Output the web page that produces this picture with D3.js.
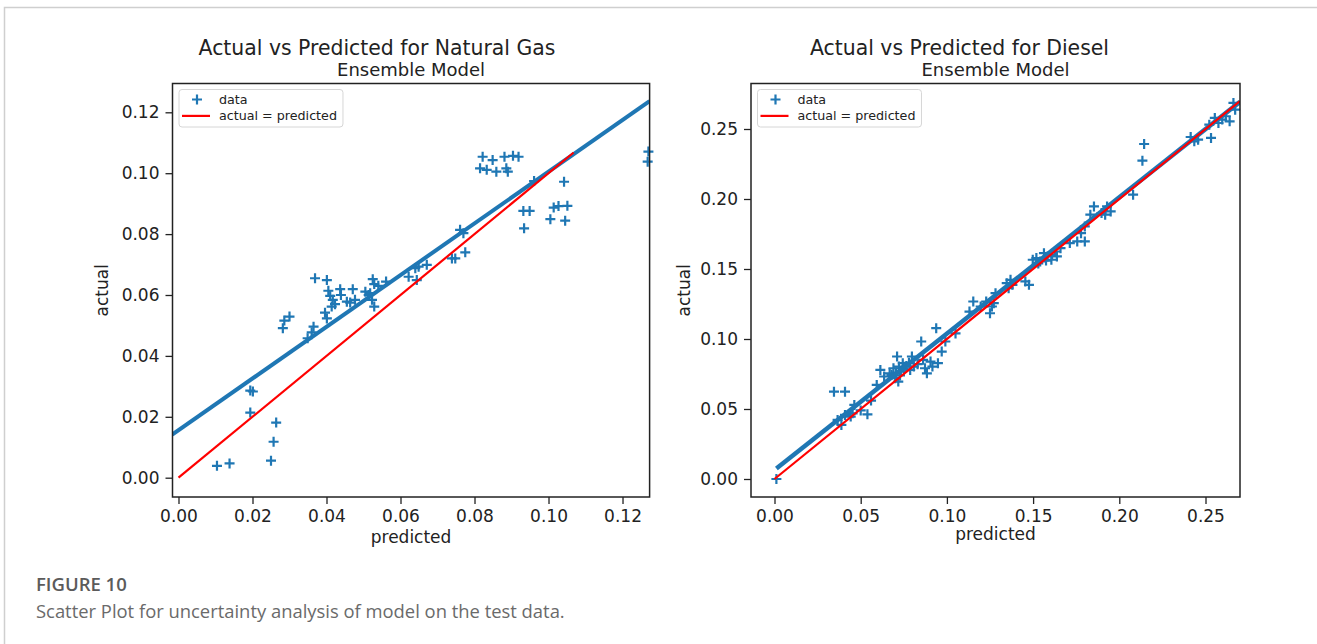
<!DOCTYPE html>
<html>
<head>
<meta charset="utf-8">
<script src="https://cdnjs.cloudflare.com/ajax/libs/d3/7.8.5/d3.min.js"></script>
<style>
  body { margin: 0; background: #fff; }
  svg { display: block; }
</style>
</head>
<body>
<svg id="chart" width="1317" height="644"></svg>
<script>
// natural gas test set: predicted vs actual
var gasPredicted = [0.0104, 0.0138, 0.0194, 0.0201, 0.0194, 0.0250, 0.0257, 0.0264, 0.0282, 0.0286,
    0.0300, 0.0349, 0.0360, 0.0365, 0.0369, 0.0401, 0.0396, 0.0401, 0.0405, 0.0410,
    0.0417, 0.0423, 0.0414, 0.0437, 0.0439, 0.0455, 0.0471, 0.0477, 0.0464, 0.0505,
    0.0514, 0.0525, 0.0529, 0.0523, 0.0529, 0.0518, 0.0540, 0.0561, 0.0622, 0.0640,
    0.0644, 0.0649, 0.0671, 0.0739, 0.0748, 0.0761, 0.0770, 0.0775, 0.0815, 0.0822,
    0.0833, 0.0849, 0.0859, 0.0881, 0.0886, 0.0890, 0.0904, 0.0919, 0.0932, 0.0949,
    0.0934, 0.0961, 0.1005, 0.1014, 0.1027, 0.1051, 0.1045, 0.1042, 0.1268, 0.1270];
var gasActual = [0.0039, 0.0047, 0.0286, 0.0283, 0.0214, 0.0056, 0.0118, 0.0181, 0.0491, 0.0516,
    0.0529, 0.0458, 0.0477, 0.0496, 0.0655, 0.0649, 0.0542, 0.0523, 0.0614, 0.0597,
    0.0584, 0.0570, 0.0562, 0.0619, 0.0600, 0.0578, 0.0619, 0.0584, 0.0575, 0.0611,
    0.0600, 0.0652, 0.0636, 0.0584, 0.0562, 0.0606, 0.0630, 0.0644, 0.0660, 0.0688,
    0.0649, 0.0693, 0.0699, 0.0720, 0.0720, 0.0814, 0.0803, 0.0740, 0.1016, 0.1054,
    0.1011, 0.1043, 0.1005, 0.1054, 0.1016, 0.1005, 0.1057, 0.1054, 0.0876, 0.0876,
    0.0819, 0.0974, 0.0849, 0.0887, 0.0892, 0.0893, 0.0844, 0.0972, 0.1038, 0.1071];

// diesel test set: predicted vs actual
var dieselPredicted = [0.0011, 0.0345, 0.0409, 0.0366, 0.0388, 0.0409, 0.0442, 0.0463, 0.0453, 0.0539,
    0.0500, 0.0560, 0.0593, 0.0614, 0.0636, 0.0668, 0.0690, 0.0711, 0.0722, 0.0733,
    0.0744, 0.0765, 0.0718, 0.0700, 0.0679, 0.0705, 0.0728, 0.0750, 0.0797, 0.0808,
    0.0787, 0.0851, 0.0873, 0.0884, 0.0862, 0.0905, 0.0916, 0.0938, 0.0948, 0.0970,
    0.0991, 0.0830, 0.0780, 0.1050, 0.1131, 0.1153, 0.1196, 0.1228, 0.1250, 0.1261,
    0.1272, 0.1282, 0.1347, 0.1369, 0.1358, 0.1380, 0.1455, 0.1476, 0.1498, 0.1519,
    0.1541, 0.1563, 0.1584, 0.1606, 0.1627, 0.1638, 0.1659, 0.1530, 0.1575, 0.1610,
    0.1713, 0.1756, 0.1800, 0.1778, 0.1800, 0.1832, 0.1853, 0.1897, 0.1929, 0.1950,
    0.1918, 0.2080, 0.2134, 0.2144, 0.2414, 0.2435, 0.2457, 0.2532, 0.2554, 0.2575,
    0.2597, 0.2618, 0.2640, 0.2662, 0.2672, 0.2522];
var dieselActual = [0.0000, 0.0624, 0.0624, 0.0422, 0.0386, 0.0458, 0.0446, 0.0529, 0.0469, 0.0462,
    0.0490, 0.0560, 0.0672, 0.0779, 0.0732, 0.0755, 0.0791, 0.0875, 0.0803, 0.0767,
    0.0827, 0.0808, 0.0696, 0.0720, 0.0744, 0.0760, 0.0740, 0.0790, 0.0875, 0.0803,
    0.0779, 0.0982, 0.0791, 0.0755, 0.0851, 0.0839, 0.0803, 0.1077, 0.0827, 0.0910,
    0.0982, 0.0820, 0.0830, 0.1040, 0.1196, 0.1268, 0.1232, 0.1268, 0.1184, 0.1232,
    0.1256, 0.1327, 0.1399, 0.1423, 0.1363, 0.1387, 0.1411, 0.1387, 0.1566, 0.1578,
    0.1554, 0.1613, 0.1590, 0.1566, 0.1625, 0.1590, 0.1649, 0.1540, 0.1560, 0.1600,
    0.1685, 0.1697, 0.1697, 0.1756, 0.1804, 0.1888, 0.1947, 0.1900, 0.1947, 0.1911,
    0.1888, 0.2031, 0.2274, 0.2393, 0.2443, 0.2412, 0.2424, 0.2436, 0.2579, 0.2543,
    0.2567, 0.2591, 0.2555, 0.2686, 0.2638, 0.2531];

// fitted trend lines [slope, intercept] and the x range they cover
var gasFit = [0.849, 0.0156];
var gasFitRange = [-0.0017, 0.1273];
var dieselFit = [0.974, 0.0064];
var dieselFitRange = [0.0011, 0.2700];

// actual = predicted reference segments
var gasIdentity = [0, 0.1068];
var dieselIdentity = [0, 0.2700];

// axis limits and ticks
var gasXDomain = [-0.00162, 0.12732], gasYDomain = [-0.00634, 0.12946];
var dieselXDomain = [-0.01363, 0.27001], dieselYDomain = [-0.01286, 0.28250];
var gasTicks = [0, 0.02, 0.04, 0.06, 0.08, 0.10, 0.12];
var dieselTicks = [0, 0.05, 0.10, 0.15, 0.20, 0.25];

var titles = ["Actual vs Predicted for Natural Gas", "Actual vs Predicted for Diesel"];
var subtitle = "Ensemble Model";
var legendLabels = ["data", "actual = predicted"];

var blue = "#1f77b4";
var font = "DejaVu Sans, sans-serif";

var svg = d3.select("#chart");

// page frame (top-left corner of the figure box)
svg.append("path")
    .attr("d", "M4.5,644 V7.5 H1317")
    .attr("fill", "none")
    .attr("stroke", "#cfcfcf")
    .attr("stroke-width", 1.5);

function drawPanel(p) {
    var x = d3.scaleLinear().domain(p.xDomain).range([p.left, p.right]);
    var y = d3.scaleLinear().domain(p.yDomain).range([p.bottom, p.top]);
    var g = svg.append("g");

    var clipId = "clip" + p.id;
    svg.append("clipPath").attr("id", clipId)
        .append("rect")
        .attr("x", p.left).attr("y", p.top)
        .attr("width", p.right - p.left).attr("height", p.bottom - p.top);

    // markers
    var pts = p.pred.map(function (d, i) { return [d, p.act[i]]; });
    g.selectAll(".pt")
        .data(pts)
        .enter()
        .append("path")
        .attr("class", "pt")
        .attr("d", function (d) {
            var cx = x(d[0]), cy = y(d[1]);
            return "M" + (cx - 5) + "," + cy + "H" + (cx + 5) + "M" + cx + "," + (cy - 5) + "V" + (cy + 5);
        })
        .attr("stroke", blue)
        .attr("stroke-width", 2.2)
        .attr("fill", "none");

    // trend line
    var line = d3.line().x(function (d) { return x(d); }).y(function (d) { return y(p.fit[0] * d + p.fit[1]); });
    g.append("path")
        .datum(p.fitRange)
        .attr("d", line)
        .attr("clip-path", "url(#" + clipId + ")")
        .attr("stroke", blue)
        .attr("stroke-width", p.fitWidth)
        .attr("fill", "none");

    // actual = predicted
    g.append("line")
        .attr("clip-path", "url(#" + clipId + ")")
        .attr("x1", x(p.identity[0])).attr("y1", y(p.identity[0]))
        .attr("x2", x(p.identity[1])).attr("y2", y(p.identity[1]))
        .attr("stroke", "#ff0000")
        .attr("stroke-width", 2.2);

    // axes
    var xAxis = d3.axisBottom(x).tickValues(p.ticks).tickFormat(d3.format(p.fmt)).tickSizeOuter(0).tickSize(7).tickPadding(6);
    var yAxis = d3.axisLeft(y).tickValues(p.ticks).tickFormat(d3.format(p.fmt)).tickSizeOuter(0).tickSize(7).tickPadding(6);
    var xa = g.append("g").attr("transform", "translate(0," + p.bottom + ")").call(xAxis);
    var ya = g.append("g").attr("transform", "translate(" + p.left + ",0)").call(yAxis);
    [xa, ya].forEach(function (a) {
        a.select(".domain").remove();
        a.selectAll(".tick line").attr("stroke", "#222").attr("stroke-width", 1.3);
        a.selectAll(".tick text").attr("fill", "#222").style("font-family", font).style("font-size", "17px");
    });

    // frame
    g.append("rect")
        .attr("x", p.left).attr("y", p.top)
        .attr("width", p.right - p.left).attr("height", p.bottom - p.top)
        .attr("fill", "none")
        .attr("stroke", "#222")
        .attr("stroke-width", 1.5);

    // titles and labels
    var mid = (p.left + p.right) / 2;
    g.append("text").attr("x", p.titleX).attr("y", 55).attr("text-anchor", "middle")
        .style("font-family", font).style("font-size", "20.4px").attr("fill", "#222").text(p.title);
    g.append("text").attr("x", mid).attr("y", 75.5).attr("text-anchor", "middle")
        .style("font-family", font).style("font-size", "18px").attr("fill", "#222").text(subtitle);
    g.append("text").attr("x", mid).attr("y", p.xLabelY).attr("text-anchor", "middle")
        .style("font-family", font).style("font-size", "17px").attr("fill", "#222").text("predicted");
    g.append("text").attr("transform", "translate(" + p.yLabelX + "," + ((p.top + p.bottom) / 2) + ") rotate(-90)")
        .attr("text-anchor", "middle")
        .style("font-family", font).style("font-size", "17px").attr("fill", "#222").text("actual");

    // legend
    var lx = p.left + 6.5, ly = p.top + 6;
    var box = g.append("rect")
        .attr("x", lx).attr("y", ly).attr("rx", 3)
        .attr("height", 37.5)
        .attr("fill", "#fff").attr("fill-opacity", 0.8)
        .attr("stroke", "#d6d6d6").attr("stroke-width", 1);
    g.append("path")
        .attr("d", "M" + (lx + 13) + "," + (ly + 10) + "H" + (lx + 23) + "M" + (lx + 18) + "," + (ly + 5) + "V" + (ly + 15))
        .attr("stroke", blue).attr("stroke-width", 2.2);
    g.append("line")
        .attr("x1", lx + 3).attr("x2", lx + 31).attr("y1", ly + 26.4).attr("y2", ly + 26.4)
        .attr("stroke", "#ff0000").attr("stroke-width", 2.2);
    var maxW = 0;
    legendLabels.forEach(function (t, i) {
        var tx = g.append("text").attr("x", lx + 40).attr("y", ly + 14.5 + i * 16.4)
            .style("font-family", font).style("font-size", "12.7px").attr("fill", "#222").text(t);
        maxW = Math.max(maxW, tx.node().getComputedTextLength());
    });
    box.attr("width", 40 + maxW + 6);
}

drawPanel({
    id: "gas", left: 172.5, right: 649.6, top: 83.5, bottom: 497,
    xDomain: gasXDomain, yDomain: gasYDomain, ticks: gasTicks, fmt: ".2f",
    pred: gasPredicted, act: gasActual,
    fit: gasFit, fitRange: gasFitRange, fitWidth: 4, identity: gasIdentity,
    title: titles[0], titleX: 377, xLabelY: 543, yLabelX: 108
});

drawPanel({
    id: "diesel", left: 751, right: 1240, top: 83.5, bottom: 497,
    xDomain: dieselXDomain, yDomain: dieselYDomain, ticks: dieselTicks, fmt: ".2f",
    pred: dieselPredicted, act: dieselActual,
    fit: dieselFit, fitRange: dieselFitRange, fitWidth: 4.5, identity: dieselIdentity,
    title: titles[1], titleX: 959.5, xLabelY: 540, yLabelX: 690
});

// caption
svg.append("text").attr("x", 36).attr("y", 590.5)
    .style("font-family", "Open Sans, sans-serif").style("font-size", "18.5px").style("font-weight", 600)
    .attr("fill", "#5b5b5b").text("FIGURE 10");
svg.append("text").attr("x", 36).attr("y", 617.5)
    .style("font-family", "Open Sans, sans-serif").style("font-size", "18.4px")
    .attr("fill", "#6a6a6a").text("Scatter Plot for uncertainty analysis of model on the test data.");
</script>
</body>
</html>
